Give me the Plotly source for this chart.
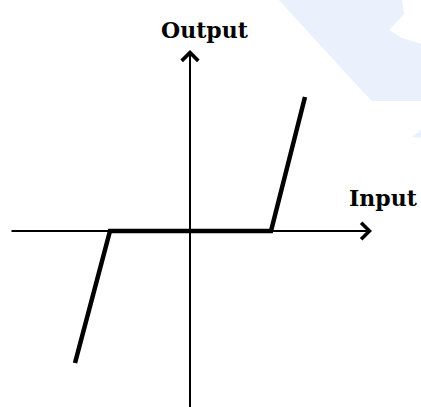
import plotly.graph_objects as go

# dead-zone characteristic (input -> output), arbitrary units
input_vals = [-11.5, -8.0, 8.1, 11.5]
output_vals = [-13.2, 0.0, 0.0, 13.4]

x_axis_span = [-18.0, 18.2]
y_axis_span = [-18.0, 18.1]

axis_labels = {"x": "Input", "y": "Output"}


def px(x, y):
    # pixel position in the 421x407 frame -> data units
    return (x - 190) / 10.0, (231 - y) / 10.0


def to_path(pts):
    return "M " + " L ".join(f"{px(a, b)[0]},{px(a, b)[1]}" for a, b in pts) + " Z"


fig = go.Figure()

fig.add_trace(go.Scatter(
    x=input_vals, y=output_vals, mode="lines",
    line=dict(color="black", width=4.5),
    hoverinfo="skip", showlegend=False,
))

# light watermark band at the top right
fig.add_shape(type="path", fillcolor="#ebf1fc", line_width=0, layer="below",
              path=to_path([(277, -2), (402, -2), (404, 14), (389, 30),
                            (402, 38), (423, 44), (423, 101), (372, 101),
                            (364, 93)]))
fig.add_shape(type="path", fillcolor="#ebf1fc", line_width=0, layer="below",
              path=to_path([(412, 137), (423, 128), (423, 138)]))

# axes with arrows
fig.add_annotation(x=x_axis_span[1], y=0, ax=x_axis_span[0], ay=0,
                   xref="x", yref="y", axref="x", ayref="y",
                   text="", showarrow=True, arrowhead=4, arrowsize=1.6,
                   arrowwidth=2, arrowcolor="black")
fig.add_annotation(x=0, y=y_axis_span[1], ax=0, ay=y_axis_span[0],
                   xref="x", yref="y", axref="x", ayref="y",
                   text="", showarrow=True, arrowhead=4, arrowsize=1.6,
                   arrowwidth=2, arrowcolor="black")

font = dict(family="DejaVu Serif", size=22, color="black")
fig.add_annotation(x=1.5, y=20.1, text="<b>" + axis_labels["y"] + "</b>",
                   showarrow=False, font=font, xanchor="center", yanchor="middle")
fig.add_annotation(x=19.3, y=3.3, text="<b>" + axis_labels["x"] + "</b>",
                   showarrow=False, font=font, xanchor="center", yanchor="middle")

fig.update_xaxes(range=[-19.0, 23.1], visible=False, fixedrange=True)
fig.update_yaxes(range=[-17.6, 23.1], visible=False, fixedrange=True)
fig.update_layout(
    width=421, height=407,
    margin=dict(l=0, r=0, t=0, b=0),
    plot_bgcolor="white", paper_bgcolor="white",
)

fig.write_html("out.html", config={"displayModeBar": False},
               post_script="document.body.style.margin='0';")
